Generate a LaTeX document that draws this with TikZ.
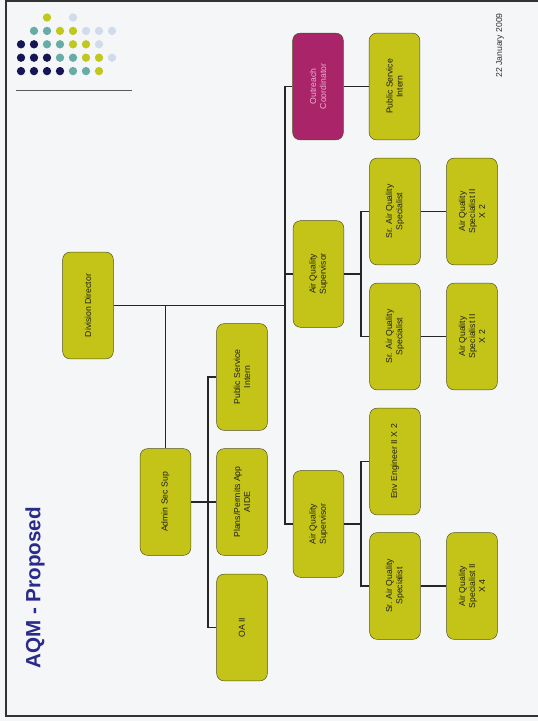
\documentclass[tikz,border=0pt]{standalone}
\usepackage{fontspec}
\setmainfont{Liberation Sans}
\usetikzlibrary{positioning}

\definecolor{pagebg}{RGB}{245,246,248}
\definecolor{boxyellow}{RGB}{196,196,24}
\definecolor{boxedge}{RGB}{80,80,30}
\definecolor{boxtext}{RGB}{30,30,22}
\definecolor{outmag}{RGB}{170,36,106}
\definecolor{outpink}{RGB}{236,176,214}
\definecolor{titleblue}{RGB}{42,42,138}
\definecolor{dotnavy}{RGB}{22,22,84}
\definecolor{dotteal}{RGB}{104,172,166}
\definecolor{dotlime}{RGB}{192,200,30}
\definecolor{dotsky}{RGB}{208,220,236}

\begin{document}
\begin{tikzpicture}[x=0.03cm, y=-0.03cm,
  post/.style={draw=boxedge, fill=boxyellow, rounded corners=0.22cm, rotate=90,
    minimum width=3.2cm, minimum height=1.52cm, inner sep=1pt, align=center,
    text=boxtext, font=\fontsize{7.4}{8.6}\selectfont},
  outreach/.style={post, fill=outmag, text=outpink},
  link/.style={draw=black!85, line width=1.6pt}]

  \useasboundingbox (0,0) rectangle (538,721);
  \fill[pagebg] (0,0) rectangle (538,721);
  \draw[black!80, line width=1.6pt] (538,1) -- (6,1) -- (6,716) -- (538,716);

  % logo
  \foreach \c/\r/\col in {2/0/dotlime, 4/0/dotsky,
      1/1/dotteal, 2/1/dotteal, 3/1/dotlime, 4/1/dotlime, 5/1/dotsky, 6/1/dotsky, 7/1/dotsky,
      0/2/dotnavy, 1/2/dotnavy, 2/2/dotteal, 3/2/dotteal, 4/2/dotlime, 5/2/dotlime, 6/2/dotsky,
      0/3/dotnavy, 1/3/dotnavy, 2/3/dotnavy, 3/3/dotteal, 4/3/dotteal, 5/3/dotlime, 6/3/dotlime, 7/3/dotsky,
      0/4/dotnavy, 1/4/dotnavy, 2/4/dotnavy, 3/4/dotnavy, 4/4/dotteal, 5/4/dotteal, 6/4/dotlime}
    \fill[\col] ({21+13*\c},{17.5+13.4*\r}) circle (0.125cm);
  \draw[black!65, line width=0.8pt] (16,90) -- (132,90);

  \node[rotate=90, text=titleblue, font=\bfseries\fontsize{17.6}{20}\selectfont] (title) at (35,588) {AQM - Proposed};
  \node[rotate=90, text=black!80, font=\fontsize{7.4}{9}\selectfont] (date) at (500,45.5) {22 January 2009};

  % boxes
  \node[post] (dd) at (88,305.5) {Division Director};
  \node[post] (as) at (165.5,502) {Admin Sec Sup};
  \node[post] (pi2) at (242,377) {Public Service\\Intern};
  \node[post] (pp) at (242,502) {Plans/Permits App\\AIDE};
  \node[post] (oa) at (242,627.5) {OA II};
  \node[outreach] (oc) at (318,86.5) {Outreach\\Coordinator};
  \node[post] (us) at (318.5,274) {Air Quality\\Supervisor};
  \node[post] (ls) at (318.5,524) {Air Quality\\Supervisor};
  \node[post] (pi1) at (394.5,86.5) {Public Service\\Intern};
  \node[post] (s1) at (395,211.5) {Sr. Air Quality\\Specialist};
  \node[post] (s2) at (395,336.5) {Sr. Air Quality\\Specialist};
  \node[post] (ee) at (395,461.5) {Env Engineer II X 2};
  \node[post] (s3) at (395,586) {Sr. Air Quality\\Specialist};
  \node[post] (a1) at (472,211.5) {Air Quality\\Specialist II\\X 2};
  \node[post] (a2) at (472,336.5) {Air Quality\\Specialist II\\X 2};
  \node[post] (a3) at (472,586) {Air Quality\\Specialist II\\X 4};

  \coordinate (trunk) at (285,0);
  \coordinate (abus) at (208,0);
  \coordinate (sbus) at (361,0);

  % connectors
  \draw[link] (oc.north) -| (trunk |- ls.north) -- (ls.north);
  \draw[link] (us.north) -- (trunk |- us.north);
  \draw[link] (dd.south) -- (trunk |- dd.south);
  \draw[link] (as.east |- dd.south) -- (as.east);
  \draw[link] (as.south) -- (pp.north);
  \draw[link] (pi2.north) -| (abus |- oa.north) -- (oa.north);
  \draw[link] (oc.south) -- (pi1.north);
  \draw[link] (us.south) -- (sbus |- us.south);
  \draw[link] (s1.north) -| (sbus |- s2.north) -- (s2.north);
  \draw[link] (ls.south) -- (sbus |- ls.south);
  \draw[link] (ee.north) -| (sbus |- s3.north) -- (s3.north);
  \draw[link] (s1.south) -- (a1.north);
  \draw[link] (s2.south) -- (a2.north);
  \draw[link] (s3.south) -- (a3.north);
\end{tikzpicture}
\end{document}
